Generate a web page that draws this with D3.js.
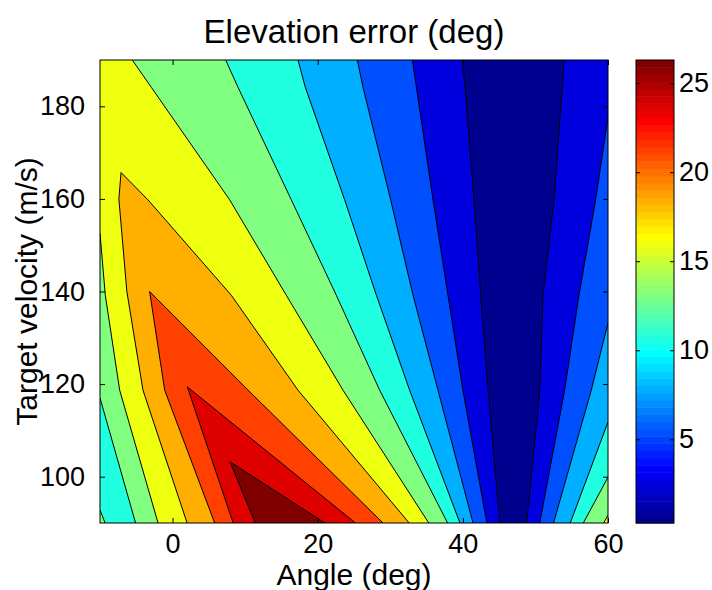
<!DOCTYPE html>
<html>
<head>
<meta charset="utf-8">
<script src="https://cdn.jsdelivr.net/npm/d3@7"></script>
<style>
  html, body { margin: 0; padding: 0; background: #fff; }
  svg { display: block; }
  text { font-family: "Liberation Sans Narrow", "Arial Narrow", "Liberation Sans", Arial, sans-serif; fill: #000; }
</style>
</head>
<body>
<svg id="chart" width="712" height="590"></svg>
<script>
// ---- axes extents and ticks ----
const angleDomain = [-10, 60];
const velocityDomain = [90, 190];
const angleTicks = [0, 20, 40, 60];
const velocityTicks = [100, 120, 140, 160, 180];
const colorTicks = [5, 10, 15, 20, 25];
const zRange = [0.3, 26.3];          // data minimum / maximum of the error field
const levels = [2.5, 5, 7.5, 10, 12.5, 15, 17.5, 20, 22.5, 25];

// ---- contour lines, [angle (deg), velocity (m/s)] ----
// "M" lines lie between the ridge and the valley, "R" lines right of the valley,
// "L" lines left of the ridge.
const line2_5M = [[39.93,190],[40.3,184.1],[41.54,159.8],[42.46,139.2],[43.47,118.7],[45.1,90]];
const line2_5R = [[53.94,190],[53.7,184.1],[52.56,159.8],[51.04,139.2],[50.6,118.7],[48.8,90]];
const line5M   = [[33.04,190],[33.6,184.1],[35.89,159.8],[37.95,139.2],[40.0,118.7],[43.3,90]];
const line5R   = [[60,177.7],[58.3,159.8],[56.0,139.2],[54.03,118.7],[50.6,90]];
const line7_5M = [[25.46,190],[26.24,184.1],[30.05,159.8],[33.13,139.2],[36.57,118.7],[41.4,90]];
const line7_5R = [[60,133.2],[57.7,118.7],[52.5,90]];
const line10M  = [[17.28,190],[18.29,184.1],[23.71,159.8],[28.08,139.2],[32.66,118.7],[39.6,90]];
const line10R  = [[60,111.8],[54.8,90]];
const line12_5M = [[7.32,190],[9.02,184.1],[16.36,159.8],[22.56,139.2],[28.53,118.7],[37.9,90]];
const line12_5L = [[-10,117],[-5.1,90]];
const line12_5C = [[-10,92.8],[-9.3,90]];
const line12_5R = [[60,99.9],[56.6,90]];
const line15M  = [[-5.55,190],[-2.93,184.1],[7.87,159.8],[15.67,139.2],[23.48,118.7],[35.3,90]];
const line15L  = [[-10,152.6],[-9.27,139.2],[-7.29,118.7],[-2.0,90]];
const line15R  = [[60,91.7],[59.4,90]];
const line17_5 = [[2.0,90],[-4.08,118.7],[-6.3,140],[-7.4,160],[-7.1,165.7],[-3.39,159.8],[8.09,139.2],[17.28,118.7],[32.6,90]];
const line20   = [[5.8,90],[-1.09,118.7],[-3.16,140],[10.4,118.7],[29.0,90]];
const line22_5 = [[8.35,90],[2.03,119.4],[25.2,90]];
const line25   = [[11.4,90],[7.91,103.2],[21.0,90]];

// ---- layout ----
const plot = { left: 100, right: 608, top: 60, bottom: 523 };
const bar = { left: 636, right: 674, top: 60, bottom: 523 };

const svg = d3.select("#chart");
const x = d3.scaleLinear().domain(angleDomain).range([plot.left, plot.right]);
const y = d3.scaleLinear().domain(velocityDomain).range([plot.bottom, plot.top]);
const cb = d3.scaleLinear().domain(zRange).range([bar.bottom, bar.top]);

// MATLAB-style 64-entry jet colormap
function jet64(k) {
  const i = k + 1;
  const r = i <= 24 ? 0 : i <= 40 ? (i - 24) / 16 : i <= 56 ? 1 : 1 - (i - 56) / 16;
  const g = i <= 8 ? 0 : i <= 24 ? (i - 8) / 16 : i <= 40 ? 1 : i <= 56 ? 1 - (i - 40) / 16 : 0;
  const b = i <= 8 ? 0.5 + i / 16 : i <= 24 ? 1 : i <= 40 ? 1 - (i - 24) / 16 : 0;
  return d3.rgb(r * 255, g * 255, b * 255).formatHex();
}
// fill colour of a band: its lower level mapped over [min, top level]
const fillIndex = d3.scaleQuantize().domain([zRange[0], levels[levels.length - 1]]).range(d3.range(64));
const bandColor = v => jet64(v >= levels[levels.length - 1] ? 63 : fillIndex(v));

// ---- filled bands (painted from lowest to highest level) ----
const [a0, a1] = angleDomain, [v0, v1] = velocityDomain;
const TL = [a0, v1], TR = [a1, v1], BL = [a0, v0], BR = [a1, v0];
const rev = arr => arr.slice().reverse();

const bands = [
  { level: zRange[0], regions: [[TL, TR, BR, BL]] },
  { level: 2.5,  regions: [[TL, ...line2_5M, BL], [...line2_5R, BR, TR]] },
  { level: 5,    regions: [[TL, ...line5M, BL], [...line5R, BR]] },
  { level: 7.5,  regions: [[TL, ...line7_5M, BL], [...line7_5R, BR]] },
  { level: 10,   regions: [[TL, ...line10M, BL], [...line10R, BR]] },
  { level: 12.5, regions: [[TL, ...line12_5M, ...rev(line12_5L)], [...line12_5C, BL], [...line12_5R, BR]] },
  { level: 15,   regions: [[TL, ...line15M, ...rev(line15L)], [...line15R, BR]] },
  { level: 17.5, regions: [line17_5] },
  { level: 20,   regions: [line20] },
  { level: 22.5, regions: [line22_5] },
  { level: 25,   regions: [line25] }
];
const contourLines = [line2_5M, line2_5R, line5M, line5R, line7_5M, line7_5R, line10M, line10R,
  line12_5M, line12_5L, line12_5C, line12_5R, line15M, line15L, line15R,
  line17_5, line20, line22_5, line25];

const path = d3.line().x(d => x(d[0])).y(d => y(d[1]));

svg.append("clipPath").attr("id", "plotClip")
  .append("rect").attr("x", plot.left).attr("y", plot.top)
  .attr("width", plot.right - plot.left).attr("height", plot.bottom - plot.top);

const area = svg.append("g").attr("clip-path", "url(#plotClip)");
bands.forEach(b => {
  area.selectAll(null).data(b.regions).join("path")
    .attr("d", d => path(d) + "Z")
    .attr("fill", bandColor(b.level))
    .attr("stroke", "none");
});
area.selectAll(".cline").data(contourLines).join("path")
  .attr("class", "cline")
  .attr("d", path)
  .attr("fill", "none")
  .attr("stroke", "#000")
  .attr("stroke-width", 1);

// ---- axes (ticks inside, on all four sides) ----
const tickFont = 27;
function styleAxis(g) {
  g.select(".domain").remove();
  g.attr("font-size", tickFont);
  g.selectAll(".tick line").attr("stroke", "#000");
}
svg.append("g").attr("transform", `translate(0,${plot.bottom})`)
  .call(d3.axisBottom(x).tickValues(angleTicks).tickSize(-5).tickPadding(11))
  .call(styleAxis);
svg.append("g").attr("transform", `translate(0,${plot.top})`)
  .call(d3.axisTop(x).tickValues(angleTicks).tickSize(-5).tickFormat(""))
  .call(styleAxis);
svg.append("g").attr("transform", `translate(${plot.left},0)`)
  .call(d3.axisLeft(y).tickValues(velocityTicks).tickSize(-5).tickPadding(15))
  .call(styleAxis);
svg.append("g").attr("transform", `translate(${plot.right},0)`)
  .call(d3.axisRight(y).tickValues(velocityTicks).tickSize(-5).tickFormat(""))
  .call(styleAxis);

svg.append("rect")
  .attr("x", plot.left).attr("y", plot.top)
  .attr("width", plot.right - plot.left).attr("height", plot.bottom - plot.top)
  .attr("fill", "none").attr("stroke", "#000").attr("stroke-width", 1);

// ---- colour bar ----
const steps = d3.range(64);
const stepH = (zRange[1] - zRange[0]) / 64;
svg.append("g").selectAll("rect").data(steps).join("rect")
  .attr("x", bar.left)
  .attr("width", bar.right - bar.left)
  .attr("y", k => cb(zRange[0] + (k + 1) * stepH))
  .attr("height", k => cb(zRange[0] + k * stepH) - cb(zRange[0] + (k + 1) * stepH) + 0.5)
  .attr("fill", k => jet64(k));

svg.append("g").attr("transform", `translate(${bar.right},0)`)
  .call(d3.axisRight(cb).tickValues(colorTicks).tickSize(-4).tickPadding(5))
  .call(styleAxis);
svg.append("g").attr("transform", `translate(${bar.left},0)`)
  .call(d3.axisLeft(cb).tickValues(colorTicks).tickSize(-4).tickFormat(""))
  .call(styleAxis);
svg.append("rect")
  .attr("x", bar.left).attr("y", bar.top)
  .attr("width", bar.right - bar.left).attr("height", bar.bottom - bar.top)
  .attr("fill", "none").attr("stroke", "#000").attr("stroke-width", 1);

// ---- titles ----
const cx = (plot.left + plot.right) / 2;
svg.append("text").attr("x", cx).attr("y", 43)
  .attr("text-anchor", "middle").attr("font-size", 33)
  .text("Elevation error (deg)");
svg.append("text").attr("x", cx).attr("y", 585)
  .attr("text-anchor", "middle").attr("font-size", 30)
  .text("Angle (deg)");
svg.append("text")
  .attr("transform", `translate(37,${(plot.top + plot.bottom) / 2}) rotate(-90)`)
  .attr("text-anchor", "middle").attr("font-size", 30)
  .text("Target velocity (m/s)");
</script>
</body>
</html>
